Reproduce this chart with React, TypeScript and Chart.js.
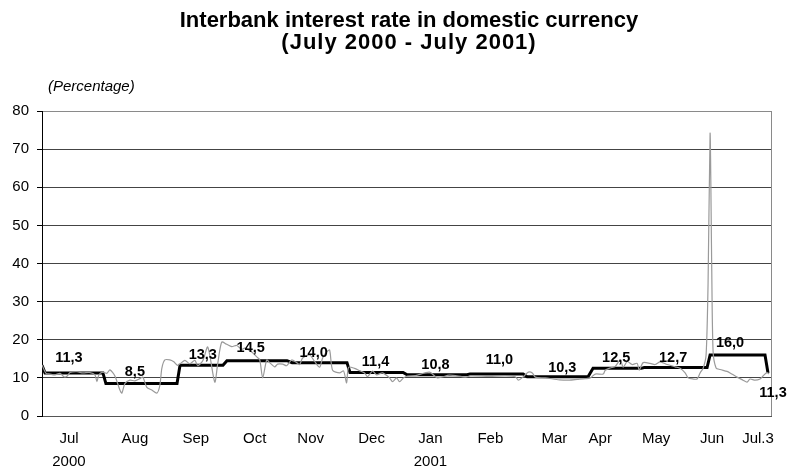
import React, { useEffect, useRef } from 'react';
import { Chart, registerables } from 'chart.js';

Chart.register(...registerables);

const titleLines = ['Interbank interest rate in domestic currency', '(July 2000 - July 2001)'];
const unitLabel = '(Percentage)';

// x axis: days since 1 July 2000
const monthLabels = ['Jul', 'Aug', 'Sep', 'Oct', 'Nov', 'Dec', 'Jan', 'Feb', 'Mar', 'Apr', 'May', 'Jun', 'Jul.3'];
const yearLabels = ['2000', '', '', '', '', '', '2001', '', '', '', '', '', ''];
const monthPositions = [13.5, 46.5, 77, 106.5, 134.5, 165, 194.5, 224.5, 256.5, 279.5, 307.5, 335.5, 358.5];

// daily interbank rate (grey line)
const dailyDays = [
  0, 2, 4, 6.5, 9, 11, 12.5, 14, 17.5, 20.5, 24, 26.5, 27.5, 28.5, 30.5, 32.5, 34, 36.5, 39, 40,
  41.5, 44, 46.5, 49, 50.5, 52.5, 55, 57.5, 59, 60, 61.5, 64, 66, 68, 71.5, 74, 76.5, 78, 80.5, 83,
  86.5, 88, 90, 92.5, 95, 97.5, 100, 101.5, 105, 107.5, 109, 110.5, 112.5, 114, 116.5, 118, 120.5, 122.5, 125, 127.5,
  129, 130.5, 134, 136.5, 139, 140.5, 142.5, 144, 145.5, 149, 151, 152.5, 153.5, 156.5, 159, 161.5, 163, 165.5, 167.5, 170.5,
  174, 175.5, 177.5, 179, 181, 183, 187, 194, 198, 204, 212, 214.5, 224, 232, 237, 238.5, 241, 243.5, 245.5, 247,
  252, 259, 264, 268, 272, 274.5, 277, 281, 282, 284.5, 287, 289.5, 291, 293, 295.5, 298, 299, 301, 304.5, 307,
  309.5, 313, 317, 319.5, 322, 323.5, 326, 328, 329.5, 331, 332.5, 333.5, 334.5, 335.3, 336, 337.5, 339.5, 343, 344.5, 348,
  351, 353, 354.5, 357, 359.5, 361, 363, 364,
];
const dailyRates = [
  13.4, 11.2, 11.0, 10.8, 11.2, 10.3, 10.4, 11.4, 11.6, 11.3, 11.4, 10.8, 9.0, 10.8, 11.5, 11.2, 12.1, 10.5, 6.8, 6.0,
  8.5, 9.4, 9.2, 9.8, 10.2, 7.5, 6.8, 6.0, 8.0, 12.5, 14.7, 14.7, 14.2, 13.3, 14.6, 13.7, 14.6, 13.2, 14.5, 18.1,
  8.9, 13.8, 19.4, 18.8, 18.2, 18.5, 17.5, 17.8, 16.8, 15.5, 14.8, 10.0, 14.7, 14.0, 12.9, 13.6, 13.6, 13.2, 14.7, 14.0,
  13.5, 15.2, 16.0, 14.3, 12.8, 15.2, 16.8, 17.3, 12.0, 11.3, 11.8, 8.7, 12.8, 12.5, 11.9, 11.3, 10.3, 11.8, 10.8, 11.3,
  10.0, 9.0, 10.0, 9.0, 10.0, 10.5, 10.6, 11.5, 10.0, 10.7, 10.2, 10.5, 10.4, 10.5, 10.3, 9.4, 10.3, 11.5, 11.3, 10.2,
  10.0, 9.5, 9.4, 9.6, 9.8, 10.0, 11.0, 11.0, 12.0, 12.6, 13.0, 14.7, 12.8, 14.3, 13.5, 13.8, 12.0, 14.0, 13.8, 13.5,
  14.2, 13.5, 12.9, 12.5, 11.3, 10.0, 9.7, 9.7, 11.3, 12.5, 16.0, 35.0, 74.2, 40.0, 17.0, 12.6, 12.2, 11.7, 11.3, 10.2,
  9.4, 8.9, 9.7, 9.4, 9.7, 10.5, 11.4, 11.0,
];

// monthly average rate (black step line)
const stepStarts = [1.5, 32, 69.1, 92.6, 125.2, 154.2, 182.8, 214.3, 242.9, 275.9, 301.5, 334.5];
const stepEnds = [30.5, 67.6, 90.6, 122.7, 152.7, 180.8, 212.8, 240.9, 273.4, 300, 333, 362];
const stepValues = [11.3, 8.5, 13.3, 14.5, 14.0, 11.4, 10.8, 11.0, 10.3, 12.5, 12.7, 16.0];
const firstRate = 13.3;
const lastRate = 11.3;
const lastDay = 363.5;

// value labels
const labelTexts = ['11,3', '8,5', '13,3', '14,5', '14,0', '11,4', '10,8', '11,0', '10,3', '12,5', '12,7', '16,0', '11,3'];
const labelDays = [13.5, 46.5, 80.5, 104.5, 136, 167, 197, 229, 260.5, 287.5, 316, 344.5, 366];
const labelLevels = [15.2, 11.5, 15.9, 17.8, 16.5, 14.2, 13.4, 14.8, 12.6, 15.2, 15.2, 19.1, 6.0];

const FONT = 'Arial, "Liberation Sans", Helvetica, sans-serif';

export default function App() {
  const canvasRef = useRef<HTMLCanvasElement | null>(null);

  useEffect(() => {
    document.body.style.margin = '0';
    const canvas = canvasRef.current;
    if (!canvas) return;

    const dailyData = dailyDays.map((d, i) => ({ x: d, y: dailyRates[i] }));
    const stepData: { x: number; y: number }[] = [{ x: 0, y: firstRate }];
    stepValues.forEach((v, i) => {
      stepData.push({ x: stepStarts[i], y: v });
      stepData.push({ x: stepEnds[i], y: v });
    });
    stepData.push({ x: lastDay, y: lastRate });

    const textPlugin = {
      id: 'textPlugin',
      afterDraw(chart: any) {
        const ctx = chart.ctx;
        const xs = chart.scales.x;
        const ys = chart.scales.y;
        const area = chart.chartArea;
        ctx.save();
        // right border of plot
        ctx.strokeStyle = '#8a8a8a';
        ctx.lineWidth = 1;
        ctx.beginPath();
        ctx.moveTo(Math.round(area.right) + 0.5, area.top);
        ctx.lineTo(Math.round(area.right) + 0.5, area.bottom);
        ctx.stroke();
        // title
        ctx.fillStyle = '#000';
        ctx.textAlign = 'center';
        ctx.textBaseline = 'middle';
        ctx.font = `bold 22px ${FONT}`;
        ctx.fillText(titleLines[0], 409, 21);
        if ('letterSpacing' in ctx) (ctx as any).letterSpacing = '1px';
        ctx.fillText(titleLines[1], 409, 43);
        if ('letterSpacing' in ctx) (ctx as any).letterSpacing = '0px';
        // unit
        ctx.textAlign = 'left';
        ctx.font = `italic 15px ${FONT}`;
        ctx.fillText(unitLabel, 48, 87);
        // value labels
        ctx.textAlign = 'center';
        ctx.font = `bold 14.5px ${FONT}`;
        labelTexts.forEach((t, i) => {
          ctx.fillText(t, xs.getPixelForValue(labelDays[i]), ys.getPixelForValue(labelLevels[i]));
        });
        ctx.restore();
      },
    };

    const chart = new Chart(canvas, {
      type: 'line',
      data: {
        datasets: [
          {
            data: dailyData,
            borderColor: '#9a9a9a',
            borderWidth: 1.2,
            pointRadius: 0,
            tension: 0.25,
            fill: false,
          },
          {
            data: stepData,
            borderColor: '#000',
            borderWidth: 3,
            pointRadius: 0,
            tension: 0,
            fill: false,
          },
        ],
      },
      options: {
        animation: false,
        responsive: false,
        layout: { padding: { top: 111, right: 17, left: 0, bottom: 0 } },
        plugins: {
          legend: { display: false },
          title: { display: false },
          tooltip: { enabled: false },
        },
        scales: {
          x: {
            type: 'linear',
            min: 0,
            max: 365,
            afterFit: (s: any) => {
              s.height = 53;
            },
            afterBuildTicks: (s: any) => {
              s.ticks = monthPositions.map((v) => ({ value: v }));
            },
            grid: { display: false, drawTicks: false, tickLength: 0 },
            border: { display: true, color: '#555', width: 1 },
            ticks: {
              autoSkip: false,
              maxRotation: 0,
              padding: 11,
              color: '#000',
              font: { family: FONT, size: 15, lineHeight: 23 / 15 },
              callback: (_v: any, i: number) =>
                yearLabels[i] ? [monthLabels[i], yearLabels[i]] : monthLabels[i],
            },
          },
          y: {
            min: 0,
            max: 80,
            afterFit: (s: any) => {
              s.width = 42;
            },
            ticks: {
              stepSize: 10,
              padding: 8,
              color: '#000',
              font: { family: FONT, size: 15 },
            },
            grid: {
              color: (c: any) => (c.tick && c.tick.value === 80 ? '#8a8a8a' : '#444'),
              lineWidth: 1,
              tickLength: 5,
              tickColor: '#000',
            },
            border: { display: true, color: '#000', width: 1 },
          },
        },
      },
      plugins: [textPlugin],
    });

    return () => chart.destroy();
  }, []);

  return (
    <div style={{ width: 788, height: 469 }}>
      <canvas ref={canvasRef} width={788} height={469} />
    </div>
  );
}
